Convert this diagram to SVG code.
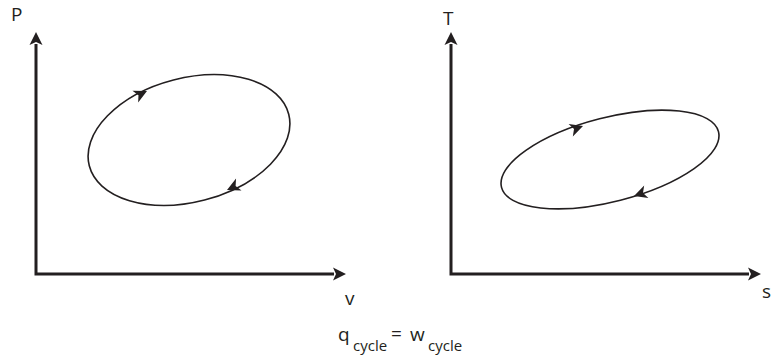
<svg xmlns="http://www.w3.org/2000/svg" width="774" height="362" viewBox="0 0 774 362">
<style>
.axis{stroke:#231f20;stroke-width:3;fill:none}
.cyc{stroke:#231f20;stroke-width:1.6;fill:none}
.head{fill:#231f20}
text{font-family:"Open Sans","Liberation Sans",sans-serif;fill:#231f20}
.lbl{font-size:19px}
.sub{font-size:15px}
</style>
<defs>
<path id="ah" d="M0,0 L-13,-6.5 L-10,0 L-13,6.5 Z"/>
<path id="ch" d="M0,0 L-13,-6.5 L-9.5,0 L-13,6.5 Z"/>
</defs>
<g id="pv-diagram">
<g id="pv-axes">
<path class="axis" d="M36,44 V274 H334"/>
<use href="#ah" class="head" transform="translate(36,32) rotate(-90)"/>
<use href="#ah" class="head" transform="translate(346,274)"/>
</g>
<g id="pv-cycle">
<ellipse class="cyc" cx="189" cy="140" rx="103" ry="62" transform="rotate(-14.5 189 140)"/>
<use href="#ch" class="head" transform="translate(147,91) rotate(-26)"/>
<use href="#ch" class="head" transform="translate(227,190) rotate(155)"/>
</g>
<text id="label-P" class="lbl" x="11" y="21">P</text>
<text id="label-v" class="lbl" x="345" y="305">v</text>
</g>
<g id="ts-diagram">
<g id="ts-axes">
<path class="axis" d="M451,44 V274 H749"/>
<use href="#ah" class="head" transform="translate(451,32) rotate(-90)"/>
<use href="#ah" class="head" transform="translate(761,274)"/>
</g>
<g id="ts-cycle">
<ellipse class="cyc" cx="610" cy="159.5" rx="112" ry="42" transform="rotate(-14.4 610 159.5)"/>
<use href="#ch" class="head" transform="translate(583,126) rotate(-19)"/>
<use href="#ch" class="head" transform="translate(634,196) rotate(161)"/>
</g>
<text id="label-T" class="lbl" x="443" y="25">T</text>
<text id="label-s" class="lbl" x="762" y="298">s</text>
</g>
<g id="equation">
<text class="lbl" x="338" y="341">q</text>
<text class="sub" x="353" y="351">cycle</text>
<text class="lbl" x="391" y="340">=</text>
<text class="lbl" x="410" y="341">w</text>
<text class="sub" x="428" y="351">cycle</text>
</g>
</svg>
